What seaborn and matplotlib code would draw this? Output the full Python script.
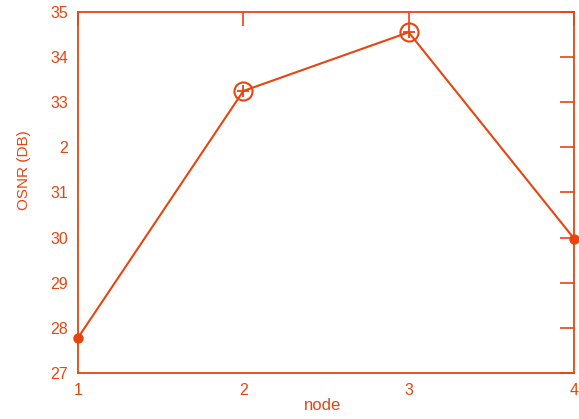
import matplotlib
matplotlib.use("Agg")
import matplotlib.pyplot as plt
import seaborn as sns
import pandas as pd

nodes = [1, 2, 3, 4]
osnr = [27.78, 33.25, 34.55, 29.98]
ring_nodes = [2, 3]
ring_osnr = [33.25, 34.55]
dot_nodes = [1, 4]
dot_osnr = [27.78, 29.98]
y_ticks = [27, 28, 29, 30, 31, 32, 33, 34, 35]
y_tick_labels = ["27", "28", "29", "30", "31", "2", "33", "34", "35"]
x_ticks = [1, 2, 3, 4]

sns.set_style("white")
plt.rcParams["font.family"] = ["Liberation Sans", "DejaVu Sans"]

c = "#E8440F"
fig = plt.figure(figsize=(5.79, 4.19), dpi=100)
ax = fig.add_axes([0.1347, 0.1098, 0.8567, 0.8616])

df = pd.DataFrame({"node": nodes, "osnr": osnr})
sns.lineplot(data=df, x="node", y="osnr", ax=ax, color=c, linewidth=1.5)
ax.plot(ring_nodes, ring_osnr, linestyle="none", marker="o", markersize=13,
        markerfacecolor="none", markeredgecolor=c, markeredgewidth=1.5, clip_on=False)
ax.plot(ring_nodes, ring_osnr, linestyle="none", marker="+", markersize=9,
        markeredgecolor=c, markeredgewidth=1.3, clip_on=False)
ax.plot(dot_nodes, dot_osnr, linestyle="none", marker="o", markersize=6.5,
        color=c, clip_on=False)

ax.set_xlim(1, 4)
ax.set_ylim(27, 35)
ax.set_xticks(x_ticks)
ax.set_yticks(y_ticks)
ax.set_yticklabels(y_tick_labels)
ax.tick_params(axis="both", direction="in", length=10, width=1.2, color=c,
               labelcolor=c, labelsize=11.5, top=True, right=True, pad=7)
for s in ax.spines.values():
    s.set_color(c)
    s.set_linewidth(1.3)
ax.set_xlabel("node", color=c, fontsize=12)
ax.set_ylabel("OSNR (DB)", color=c, fontsize=11)
ax.yaxis.set_label_coords(-0.095, 0.562)
ax.xaxis.set_label_coords(0.493, -0.068)

fig.savefig("out.png", dpi=100)
